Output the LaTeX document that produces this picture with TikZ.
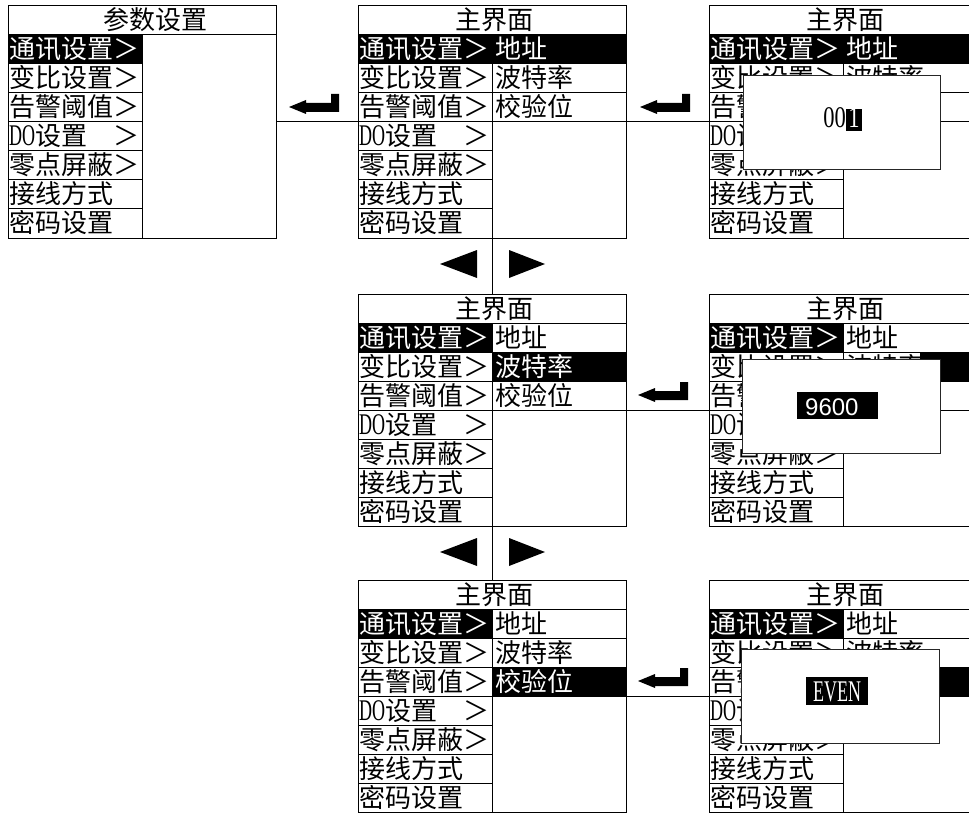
\documentclass[tikz,border=0pt]{standalone}
\usepackage{fontspec}
\newfontfamily\cjk{Noto Sans CJK SC}
\newfontfamily\latn[FakeStretch=0.6]{Liberation Serif}
\newfontfamily\latnb[FakeStretch=0.75]{Liberation Serif}
\newfontfamily\sansf{Liberation Sans}
\tikzset{
  frame/.style={draw=black, line width=1pt},
  lbl/.style={anchor=base west, inner sep=0pt, font=\cjk\fontsize{26}{26}\selectfont},
  ttl/.style={anchor=base, inner sep=0pt, font=\cjk\fontsize{26}{26}\selectfont},
  hl/.style={fill=black},
  popup/.style={draw=black!85, fill=white, line width=1pt},
  conn/.style={draw=black, line width=1pt},
  tri/.style={fill=black},
  enterkey/.style={fill=black}
}
% grid of a panel (in shifted scope)
\newcommand\pgrid{%
  \draw[frame] (0,0) rectangle (268,232);
  \draw[frame] (0,29) -- (268,29);
  \draw[frame] (134,29) -- (134,232);
  \foreach \k in {1,...,6} \draw[frame] (0,{29+29*\k}) -- (134,{29+29*\k});
}
\newcommand\psubgrid{%
  \foreach \k in {1,2,3} \draw[frame] (134,{29+29*\k}) -- (268,{29+29*\k});
}
\newcommand\pleft{%
  \node[lbl,text=white] (m1) at (1,53) {通讯设置＞};
  \node[lbl] (m2) at (1,82) {变比设置＞};
  \node[lbl] (m3) at (1,111) {告警阈值＞};
  \node[lbl] (m4) at (1,140) {{\latn\fontsize{30}{30}\selectfont DO}设置};
  \node[lbl] (m4b) at (105,140) {＞};
  \node[lbl] (m5) at (1,169) {零点屏蔽＞};
  \node[lbl] (m6) at (1,198) {接线方式};
  \node[lbl] (m7) at (1,227) {密码设置};
}
% #1 #2 #3 : colours of the three submenu texts
\newcommand\psub[3]{%
  \node[lbl,text=#1] (s1) at (137,53) {地址};
  \node[lbl,text=#2] (s2) at (137,82) {波特率};
  \node[lbl,text=#3] (s3) at (137,111) {校验位};
}
\newcommand\enterkey[2]{%
  \fill[enterkey] (#1,#2) -- ++(17,-7) -- ++(0,3) -- ++(25,0) -- ++(0,-9)
    -- ++(8,0) -- ++(0,18) -- ++(-33,0) -- ++(0,2) -- cycle;
}
\begin{document}
\begin{tikzpicture}[x=1pt,y=-1pt]
\useasboundingbox (0,0) rectangle (969,813);
\clip (0,0) rectangle (969,813);

% ---------- panel 1: 参数设置
\begin{scope}[shift={(8,6)}]
  \fill[hl] (0,29) rectangle (134,58);
  \pgrid
  \node[ttl] (t1) at (147,24) {参数设置};
  \pleft
\end{scope}

% ---------- panel 2: top middle
\begin{scope}[shift={(358,6)}]
  \fill[hl] (0,29) rectangle (268,58);
  \pgrid \psubgrid
  \node[ttl] (t2) at (136,24) {主界面};
  \pleft
  \psub{white}{black}{black}
\end{scope}

% ---------- panel 3: top right with popup
\begin{scope}[shift={(709,6)}]
  \fill[hl] (0,29) rectangle (268,58);
  \pgrid \psubgrid
  \node[ttl] (t3) at (136,24) {主界面};
  \pleft
  \psub{white}{black}{black}
\end{scope}
\filldraw[popup] (743,76) rectangle (940,170);
\fill[hl] (846,109) rectangle (862,131);
\node[anchor=base east, inner sep=0pt, font=\latnb\fontsize{30}{30}\selectfont] (v00) at (846,128) {00};
\node[anchor=base, inner sep=0pt, text=white, font=\latnb\fontsize{30}{30}\selectfont] (v1) at (854,128) {1};

% ---------- panel 4: middle
\begin{scope}[shift={(358,294)}]
  \fill[hl] (0,29) rectangle (134,58);
  \fill[hl] (134,58) rectangle (268,87);
  \pgrid \psubgrid
  \node[ttl] (t4) at (136,24) {主界面};
  \pleft
  \psub{black}{white}{black}
\end{scope}

% ---------- panel 5: middle right with popup
\begin{scope}[shift={(709,294)}]
  \fill[hl] (0,29) rectangle (134,58);
  \fill[hl] (211,58) rectangle (268,87);
  \pgrid \psubgrid
  \node[ttl] (t5) at (136,24) {主界面};
  \pleft
  \psub{black}{black}{black}
\end{scope}
\filldraw[popup] (742,359) rectangle (940,453);
\fill[hl] (797,392) rectangle (878,419);
\node[anchor=base west, inner sep=0pt, text=white, font=\sansf\fontsize{24}{24}\selectfont] (v9600) at (805,415) {9600};

% ---------- panel 6: bottom middle
\begin{scope}[shift={(358,580)}]
  \fill[hl] (0,29) rectangle (134,58);
  \fill[hl] (134,87) rectangle (268,116);
  \pgrid \psubgrid
  \node[ttl] (t6) at (136,24) {主界面};
  \pleft
  \psub{black}{black}{white}
\end{scope}

% ---------- panel 7: bottom right with popup
\begin{scope}[shift={(709,580)}]
  \fill[hl] (0,29) rectangle (134,58);
  \fill[hl] (134,87) rectangle (268,116);
  \pgrid \psubgrid
  \node[ttl] (t7) at (136,24) {主界面};
  \pleft
  \psub{black}{black}{white}
\end{scope}
\filldraw[popup] (741,649) rectangle (939,743);
\fill[hl] (806,677) rectangle (868,705);
\node[anchor=base, inner sep=0pt, text=white, font=\latn\fontsize{30}{30}\selectfont] (veven) at (837,701) {EVEN};

% ---------- connectors
\coordinate (p1r) at (276,122); \coordinate (p2l) at (358,122);
\coordinate (p2r) at (626,122); \coordinate (p3l) at (709,122);
\coordinate (p4r) at (626,410); \coordinate (p5l) at (709,410);
\coordinate (p6r) at (626,696); \coordinate (p7l) at (709,696);
\coordinate (p2b) at (492,238); \coordinate (p4t) at (492,294);
\coordinate (p4b) at (492,526); \coordinate (p6t) at (492,580);
\draw[conn] (p1r) -- (p2l);
\draw[conn] (p2r) -- (p3l);
\draw[conn] (p4r) -- (p5l);
\draw[conn] (p6r) -- (p7l);
\draw[conn] (p2b) -- (p4t);
\draw[conn] (p4b) -- (p6t);

% enter keys
\enterkey{289}{107}
\enterkey{640}{107}
\enterkey{638}{395}
\enterkey{638}{681}

% left / right triangles
\fill[tri] (440,264) -- (477,250) -- (477,278) -- cycle;
\fill[tri] (545,264) -- (509,250) -- (509,278) -- cycle;
\fill[tri] (440,552) -- (477,538) -- (477,566) -- cycle;
\fill[tri] (545,552) -- (509,538) -- (509,566) -- cycle;
\end{tikzpicture}
\end{document}
